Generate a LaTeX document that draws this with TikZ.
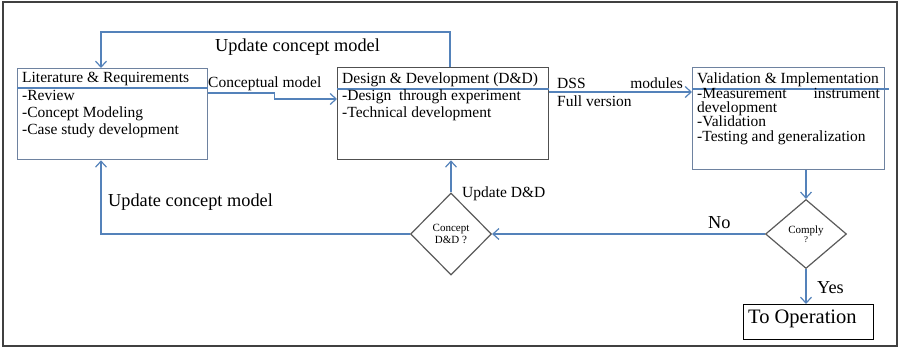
\documentclass[tikz,border=0pt]{standalone}
\usepackage{fontspec}
\setmainfont{Liberation Serif}
\usetikzlibrary{arrows.meta,shapes.geometric,calc}
\definecolor{flow}{RGB}{84,130,186}
\definecolor{frameline}{RGB}{64,64,64}
\definecolor{boxblue}{RGB}{110,130,160}
\definecolor{boxgray}{RGB}{80,80,80}
\definecolor{diagray}{RGB}{90,90,90}
\begin{document}
\begin{tikzpicture}[x=1pt,y=-1pt,
  conn/.style={draw=flow,line width=1.4pt,
    -{Straight Barb[length=6pt,width=11pt,line width=1.2pt]}},
  divider/.style={draw=flow,line width=1.3pt},
  stagebox/.style={draw=#1,line width=1.3pt,anchor=north west,
    inner sep=0pt,rectangle},
  decision/.style={draw=diagray,line width=1.2pt,shape=diamond,
    inner sep=0pt,align=center,font=\fontsize{11}{12.5}\selectfont},
  body/.style={anchor=base west,inner sep=0pt,
    font=\fontsize{15.5}{17}\selectfont},
  bodyr/.style={anchor=base east,inner sep=0pt,
    font=\fontsize{15.5}{17}\selectfont},
  biglabel/.style={anchor=base west,inner sep=0pt,
    font=\fontsize{18.3}{20}\selectfont}]
\useasboundingbox (0,0) rectangle (900,348);
\draw[frameline,line width=2pt] (3,2) rectangle (897,346);

% stage boxes
\node[stagebox=boxblue,minimum width=190pt,minimum height=91pt] (lit) at (17,68) {};
\node[stagebox=boxgray,minimum width=211pt,minimum height=92pt] (dd) at (337,67) {};
\node[stagebox=boxblue,minimum width=192pt,minimum height=102pt] (vi) at (692,67) {};
\node[stagebox=black,minimum width=130pt,minimum height=35pt] (toop) at (743,304) {};

% header dividers
\draw[divider] ($(lit.north west)+(0,20)$) -- ($(lit.north east)+(0,20)$);
\draw[divider] ($(dd.north west)+(0,22)$) -- ($(dd.north east)+(0,22)$);
\draw[divider] ($(vi.north west)+(0,22)$) -- ($(vi.north east)+(4,22)$);

% decisions
\node[decision,minimum width=81pt,minimum height=82pt] (concept) at (451,234) {Concept\\[-1pt]D\&D ?};
\node[decision,minimum width=81pt,minimum height=69pt] (comply) at (806,234) {Comply\\[-3pt]{\fontsize{9}{9}\selectfont ?}};

% box texts
\node[body] (t11) at (22,82) {Literature \& Requirements};
\node[body] (t12) at (22,100) {-Review};
\node[body] (t13) at (22,117) {-Concept Modeling};
\node[body] (t14) at (22,134) {-Case study development};

\node[body] (t21) at (342,83) {Design \& Development (D\&D)};
\node[body] (t22) at (342,100) {-Design\ \ through experiment};
\node[body] (t23) at (342,117) {-Technical development};

\node[body] (t31) at (697,83) {Validation \& Implementation};
\node[body] (t32) at (697,98) {-Measurement};
\node[bodyr] (t32b) at (880,98) {instrument};
\node[body] (t33) at (697,112) {development};
\node[body] (t34) at (697,126) {-Validation};
\node[body] (t35) at (697,141) {-Testing and generalization};

\node[anchor=base west,inner sep=0pt,font=\fontsize{20.5}{22}\selectfont] (t41) at (748,323) {To Operation};

% connectors
\draw[conn] ($(dd.north west)+(113,0)$) -- ++(0,-35) -| ($(lit.north west)+(84,0)$);
\draw[conn] ($(lit.north east)+(0,25)$) -- ++(66,0) |- ($(dd.north west)+(0,32)$);
\draw[conn] ($(dd.north east)+(0,25)$) -- ($(vi.north west)+(0,25)$);
\draw[conn] ($(vi.south west)+(114,0)$) -- (comply.north);
\draw[conn] (comply.west) -- (concept.east);
\draw[conn] (concept.north) -- (concept.north |- dd.south);
\draw[conn] (concept.west) -| ($(lit.south west)+(84,0)$);
\draw[conn] (comply.south) -- (comply.south |- toop.north);

% connector labels
\node[biglabel] (l1) at (215,51) {Update concept model};
\node[body] (l2) at (208,87) {Conceptual model};
\node[body] (l3) at (557,88) {DSS};
\node[bodyr] (l3b) at (683,88) {modules};
\node[body] (l4) at (557,106) {Full version};
\node[body] (l5) at (462,197) {Update D\&D};
\node[biglabel] (l6) at (108,206) {Update concept model};
\node[biglabel] (l7) at (708,228) {No};
\node[biglabel] (l8) at (817,293) {Yes};
\end{tikzpicture}
\end{document}
